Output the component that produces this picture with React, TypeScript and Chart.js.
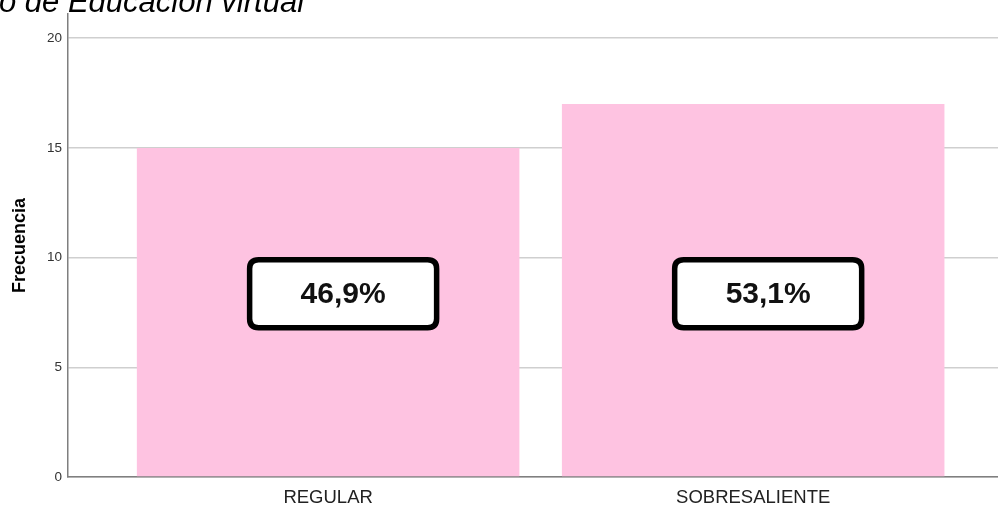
import React, { useEffect, useRef } from "react";
import { Chart, registerables } from "chart.js";

Chart.register(...registerables);

const categories: string[] = ["REGULAR", "SOBRESALIENTE"];
const frequencies: number[] = [15, 17];
const percentLabels: string[] = ["46,9%", "53,1%"];
const yTickValues: number[] = [0, 5, 10, 15, 20];
const titleText = "o de Educación virtual";
const yAxisTitle = "Frecuencia";

const FONT = "'Liberation Sans', Arial, sans-serif";

function roundRect(ctx: CanvasRenderingContext2D, x: number, y: number, w: number, h: number, r: number) {
  ctx.beginPath();
  ctx.moveTo(x + r, y);
  ctx.lineTo(x + w - r, y);
  ctx.quadraticCurveTo(x + w, y, x + w, y + r);
  ctx.lineTo(x + w, y + h - r);
  ctx.quadraticCurveTo(x + w, y + h, x + w - r, y + h);
  ctx.lineTo(x + r, y + h);
  ctx.quadraticCurveTo(x, y + h, x, y + h - r);
  ctx.lineTo(x, y + r);
  ctx.quadraticCurveTo(x, y, x + r, y);
  ctx.closePath();
}

const boxLabelPlugin = {
  id: "boxLabels",
  afterDatasetsDraw(chart: any) {
    const ctx: CanvasRenderingContext2D = chart.ctx;
    const meta = chart.getDatasetMeta(0);
    const yScale = chart.scales.y;
    const cy = yScale.getPixelForValue(8.35);
    meta.data.forEach((bar: any, i: number) => {
      const cx = bar.x + 15;
      const w = 187;
      const h = 68;
      ctx.save();
      roundRect(ctx, cx - w / 2, cy - h / 2, w, h, 9);
      ctx.fillStyle = "#ffffff";
      ctx.fill();
      ctx.lineWidth = 5.5;
      ctx.strokeStyle = "#000000";
      ctx.stroke();
      ctx.fillStyle = "#111111";
      ctx.font = `bold 30px ${FONT}`;
      ctx.textAlign = "center";
      ctx.textBaseline = "middle";
      ctx.fillText(percentLabels[i], cx, cy + 1);
      ctx.restore();
    });
  },
};

const topTitlePlugin = {
  id: "topTitle",
  afterDraw(chart: any) {
    const ctx: CanvasRenderingContext2D = chart.ctx;
    ctx.save();
    ctx.font = `italic 31px ${FONT}`;
    ctx.fillStyle = "#000000";
    ctx.textAlign = "left";
    ctx.textBaseline = "alphabetic";
    ctx.fillText(titleText, -1, 12);
    ctx.restore();
  },
};

export default function App() {
  const canvasRef = useRef<HTMLCanvasElement | null>(null);

  useEffect(() => {
    document.body.style.margin = "0";
    const canvas = canvasRef.current;
    if (!canvas) return;
    const chart = new Chart(canvas, {
      type: "bar",
      data: {
        datasets: [
          {
            data: frequencies.map((v, i) => ({ x: i, y: v })),
            backgroundColor: "#fec3e1",
            borderWidth: 0,
            barPercentage: 0.9,
            categoryPercentage: 1,
          },
        ],
      },
      plugins: [boxLabelPlugin, topTitlePlugin],
      options: {
        animation: false,
        responsive: false,
        devicePixelRatio: 1,
        layout: { padding: { top: 13, left: 0, right: 0, bottom: 0 } },
        plugins: {
          legend: { display: false },
          tooltip: { enabled: false },
          title: { display: false },
        },
        scales: {
          x: {
            type: "linear",
            offset: false,
            min: -0.612,
            max: 1.576,
            afterBuildTicks: (scale: any) => {
              scale.ticks = categories.map((_, i) => ({ value: i }));
            },
            afterFit: (scale: any) => {
              scale.height = 29;
            },
            grid: { display: false, drawTicks: false, offset: false },
            border: { display: true, color: "#7f7f7f", width: 1.5 },
            ticks: {
              padding: 10,
              color: "#222222",
              font: { family: FONT, size: 18.5 },
              maxRotation: 0,
              autoSkip: false,
              callback: (value: any) => categories[Math.round(Number(value))] ?? "",
            },
          },
          y: {
            min: 0,
            max: 21.1,
            afterBuildTicks: (scale: any) => {
              scale.ticks = yTickValues.map((v) => ({ value: v }));
            },
            afterFit: (scale: any) => {
              scale.width = 68;
            },
            grid: { color: "#cfcfcf", lineWidth: 1.5, drawTicks: false },
            border: { display: true, color: "#7f7f7f", width: 1.5 },
            ticks: {
              padding: 6,
              color: "#333333",
              font: { family: FONT, size: 13.5 },
            },
            title: {
              display: true,
              text: yAxisTitle,
              color: "#000000",
              font: { family: FONT, size: 18, weight: "bold" },
              padding: { top: 9, bottom: 0 },
            },
          },
        },
      },
    });
    return () => chart.destroy();
  }, []);

  return (
    <div style={{ width: 998, height: 506, position: "relative" }}>
      <canvas ref={canvasRef} width={998} height={506} style={{ display: "block" }} />
    </div>
  );
}
